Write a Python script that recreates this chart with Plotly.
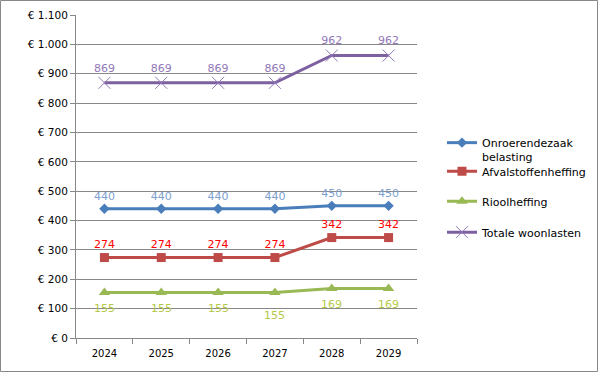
import plotly.graph_objects as go

years = ["2024", "2025", "2026", "2027", "2028", "2029"]
onroerend = [440, 440, 440, 440, 450, 450]
afval = [274, 274, 274, 274, 342, 342]
riool = [155, 155, 155, 155, 169, 169]
totaal = [869, 869, 869, 869, 962, 962]
riool_label_shift = [-16, -16, -16, -23, -16, -16]

y_ticks = [0, 100, 200, 300, 400, 500, 600, 700, 800, 900, 1000, 1100]
y_ticktext = ["€ 0", "€ 100", "€ 200", "€ 300", "€ 400", "€ 500", "€ 600",
              "€ 700", "€ 800", "€ 900", "€ 1.000", "€ 1.100"]

W, H = 599, 373
L, R, T, B = 76, 182, 15, 35
PW, PH = W - L - R, H - T - B
FONT = "DejaVu Sans"


def px_x(p):
    return (p - L) / PW


def px_y(p):
    return (H - B - p) / PH


fig = go.Figure()

fig.add_trace(go.Scatter(
    x=years, y=onroerend, name="Onroerendezaak<br>belasting", legend="legend",
    mode="lines+markers+text", text=[str(v) for v in onroerend], textposition="top center",
    textfont=dict(color="#7f9fd0", size=11, family=FONT),
    line=dict(color="#4a7ebb", width=3), marker=dict(symbol="diamond", size=8, color="#4a7ebb")))
fig.add_trace(go.Scatter(
    x=years, y=afval, name="Afvalstoffenheffing", legend="legend2",
    mode="lines+markers+text", text=[str(v) for v in afval], textposition="top center",
    textfont=dict(color="#ff0000", size=11, family=FONT),
    line=dict(color="#be4b48", width=3), marker=dict(symbol="square", size=9, color="#be4b48")))
fig.add_trace(go.Scatter(
    x=years, y=riool, name="Rioolheffing", legend="legend3",
    mode="lines+markers",
    line=dict(color="#98b954", width=3), marker=dict(symbol="triangle-up", size=10, color="#98b954")))
fig.add_trace(go.Scatter(
    x=years, y=totaal, name="Totale woonlasten", legend="legend4",
    mode="lines+markers+text", text=[str(v) for v in totaal], textposition="top center",
    textfont=dict(color="#9278b8", size=11, family=FONT),
    line=dict(color="#7d60a0", width=3),
    marker=dict(symbol="x-thin-open", size=12, color="#9278b8", line=dict(color="#9278b8", width=1))))

for i, (v, s) in enumerate(zip(riool, riool_label_shift)):
    fig.add_annotation(x=i, y=v, xref="x", yref="y", text=str(v), showarrow=False, yshift=s,
                       font=dict(color="#b5c94a", size=11, family=FONT))

fig.add_shape(type="rect", xref="paper", yref="paper",
              x0=px_x(0.5), x1=px_x(597.5), y0=px_y(371.5), y1=px_y(0.5),
              line=dict(color="#888888", width=1), fillcolor="rgba(0,0,0,0)", layer="below")

leg_common = dict(xref="container", yref="container", xanchor="left", yanchor="middle",
                  font=dict(size=11, family=FONT), itemwidth=30,
                  bgcolor="rgba(0,0,0,0)", valign="top")
legx = 442 / W

fig.update_layout(
    width=W, height=H, margin=dict(l=L, r=R, t=T, b=B, autoexpand=False),
    paper_bgcolor="white", plot_bgcolor="white",
    font=dict(family=FONT, size=10, color="black"),
    showlegend=True,
    legend=dict(x=legx, y=1 - 150 / H, **leg_common),
    legend2=dict(x=legx, y=1 - 172 / H, **leg_common),
    legend3=dict(x=legx, y=1 - 202 / H, **leg_common),
    legend4=dict(x=legx, y=1 - 233 / H, **leg_common),
    xaxis=dict(type="category", range=[-0.5, 5.5], showline=True, linecolor="#888888",
               ticks="outside", tickson="boundaries", ticklen=5, tickcolor="#888888",
               showgrid=False, tickfont=dict(size=10, family=FONT), automargin=False,
               ticklabelstandoff=6),
    yaxis=dict(range=[0, 1100], tickvals=y_ticks, ticktext=y_ticktext, showline=True,
               linecolor="#888888", ticks="outside", ticklen=5, tickcolor="#888888",
               gridcolor="#888888", gridwidth=1, zeroline=False, automargin=False,
               tickfont=dict(size=10.5, family=FONT)),
)

fig.write_html("out.html", config={"displayModeBar": False},
               post_script="document.body.style.margin='0';")
